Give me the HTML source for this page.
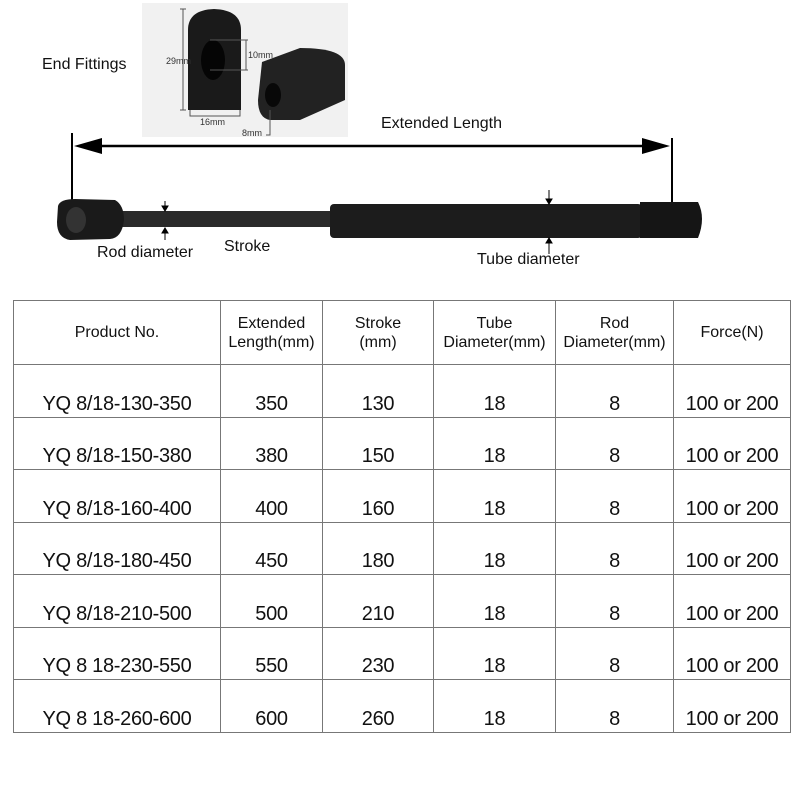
<!DOCTYPE html>
<html><head><style>
body{margin:0;width:800px;height:800px;background:#fff;position:relative;overflow:hidden;font-family:"Liberation Sans",sans-serif;}
.t{position:absolute;font-size:16px;color:#111;white-space:nowrap}
table{position:absolute;left:13px;top:300px;border-collapse:collapse;}
td{border:1.5px solid #777;text-align:center;padding:0;color:#111;}
.h td{height:63px;font-size:16px;line-height:19px;vertical-align:middle;}
.r td{height:50.5px;font-size:20px;vertical-align:bottom;padding-bottom:1px;letter-spacing:-0.3px}
</style></head><body>
<div style="position:absolute;left:142px;top:3px;width:206px;height:134px;background:#f1f1f1"></div>
<svg style="position:absolute;left:0;top:0" width="800" height="300">
 <path d="M188,30 Q188,10 214,9 Q241,10 241,30 L241,110 L188,110 Z" fill="#1a1a1a"/>
 <ellipse cx="213" cy="60" rx="12" ry="20" fill="#050505"/>
 <path d="M262,62 L300,48 Q345,48 345,65 L345,100 L300,120 L270,120 Q258,118 258,100 Z" fill="#222"/>
 <ellipse cx="273" cy="95" rx="8" ry="12" fill="#080808"/>
 <g stroke="#555" stroke-width="1" fill="none">
  <path d="M180,9 H186 M183,9 V110 M180,110 H186"/>
  <path d="M190,110 V116 H240 V110"/>
  <path d="M210,40 H248 M210,70 H248 M246,40 V70"/>
  <path d="M270,110 V135 H266"/>
 </g>
 <text x="166" y="64" font-size="9" fill="#333" font-family="Liberation Sans">29mm</text>
 <text x="248" y="58" font-size="9" fill="#333" font-family="Liberation Sans">10mm</text>
 <text x="200" y="125" font-size="9" fill="#333" font-family="Liberation Sans">16mm</text>
 <text x="242" y="136" font-size="9" fill="#333" font-family="Liberation Sans">8mm</text>
 <line x1="72" y1="133" x2="72" y2="205" stroke="#000" stroke-width="2"/>
 <line x1="672" y1="138" x2="672" y2="205" stroke="#000" stroke-width="2"/>
 <line x1="90" y1="146" x2="655" y2="146" stroke="#000" stroke-width="2.5"/>
 <polygon points="74,146 102,138 102,154" fill="#000"/>
 <polygon points="670,146 642,138 642,154" fill="#000"/>
 <rect x="118" y="211" width="215" height="16" fill="#2a2a2a"/>
 <rect x="330" y="204" width="312" height="34" rx="4" fill="#1c1c1c"/>
 <path d="M640,202 L698,202 Q706,218 698,238 L640,238 Z" fill="#151515"/>
 <path d="M58,206 Q60,199 75,199 L115,200 Q124,205 124,220 Q122,238 110,239 L70,240 Q57,238 57,222 Z" fill="#1a1a1a"/>
 <ellipse cx="76" cy="220" rx="10" ry="13" fill="#333"/>
 <g stroke="#000" stroke-width="1" fill="#000">
  <line x1="165" y1="201" x2="165" y2="210"/><polygon points="162,206 168,206 165,211"/>
  <line x1="165" y1="228" x2="165" y2="240"/><polygon points="162,233 168,233 165,228"/>
  <line x1="549" y1="190" x2="549" y2="203"/><polygon points="546,199 552,199 549,204"/>
  <line x1="549" y1="238" x2="549" y2="254"/><polygon points="546,243 552,243 549,238"/>
 </g>
</svg>
<div class="t" style="left:42px;top:56px">End Fittings</div>
<div class="t" style="left:381px;top:115px">Extended Length</div>
<div class="t" style="left:97px;top:244px">Rod diameter</div>
<div class="t" style="left:224px;top:238px">Stroke</div>
<div class="t" style="left:477px;top:251px">Tube diameter</div>
<table>
<colgroup><col style="width:207px"><col style="width:102px"><col style="width:111px"><col style="width:122px"><col style="width:118px"><col style="width:117px"></colgroup>
<tr class="h"><td>Product No.</td><td>Extended<br>Length(mm)</td><td>Stroke<br>(mm)</td><td>Tube<br>Diameter(mm)</td><td>Rod<br>Diameter(mm)</td><td>Force(N)</td></tr>
<tr class="r"><td>YQ 8/18-130-350</td><td>350</td><td>130</td><td>18</td><td>8</td><td>100 or 200</td></tr>
<tr class="r"><td>YQ 8/18-150-380</td><td>380</td><td>150</td><td>18</td><td>8</td><td>100 or 200</td></tr>
<tr class="r"><td>YQ 8/18-160-400</td><td>400</td><td>160</td><td>18</td><td>8</td><td>100 or 200</td></tr>
<tr class="r"><td>YQ 8/18-180-450</td><td>450</td><td>180</td><td>18</td><td>8</td><td>100 or 200</td></tr>
<tr class="r"><td>YQ 8/18-210-500</td><td>500</td><td>210</td><td>18</td><td>8</td><td>100 or 200</td></tr>
<tr class="r"><td>YQ 8 18-230-550</td><td>550</td><td>230</td><td>18</td><td>8</td><td>100 or 200</td></tr>
<tr class="r"><td>YQ 8 18-260-600</td><td>600</td><td>260</td><td>18</td><td>8</td><td>100 or 200</td></tr>
</table>
</body></html>
